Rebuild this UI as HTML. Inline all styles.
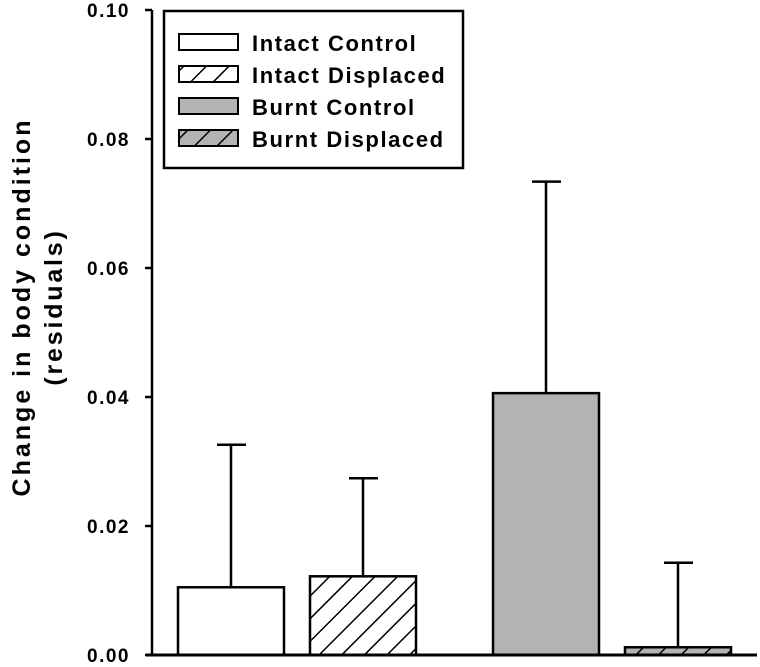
<!DOCTYPE html>
<html><head><meta charset="utf-8"><style>
body{margin:0;background:#fff;}
svg{display:block;font-family:"Liberation Sans",Arial,sans-serif;font-weight:bold;}
</style></head><body>
<svg id="chart" width="760" height="667" viewBox="0 0 760 667" xmlns="http://www.w3.org/2000/svg">
<defs>
<pattern id="hatch" patternUnits="userSpaceOnUse" width="16" height="16" patternTransform="rotate(45)">
<rect width="16" height="16" fill="white"/><line x1="0" y1="0" x2="0" y2="16" stroke="#000" stroke-width="3"/></pattern>
<pattern id="hatchg" patternUnits="userSpaceOnUse" width="16" height="16" patternTransform="rotate(45)">
<rect width="16" height="16" fill="#b3b3b3"/><line x1="0" y1="0" x2="0" y2="16" stroke="#000" stroke-width="3"/></pattern>
</defs>
<g id="plot"></g>
<text transform="translate(30,307) rotate(-90)" text-anchor="middle" font-size="25" letter-spacing="3">Change in body condition</text>
<text transform="translate(62,307) rotate(-90)" text-anchor="middle" font-size="25" letter-spacing="2.8">(residuals)</text>
<g>
<rect x="164" y="11" width="299" height="157" fill="#fff" stroke="#000" stroke-width="2.5"/>
<g><rect x="179" y="34" width="59" height="16" fill="#fff" stroke="#000" stroke-width="2"/><text x="252" y="51" font-size="22" letter-spacing="1.6">Intact Control</text></g>
<g><rect x="179" y="66" width="59" height="16" fill="url(#hatch)" stroke="#000" stroke-width="2"/><text x="252" y="83" font-size="22" letter-spacing="1.6">Intact Displaced</text></g>
<g><rect x="179" y="98" width="59" height="16" fill="#b3b3b3" stroke="#000" stroke-width="2"/><text x="252" y="115" font-size="22" letter-spacing="1.6">Burnt Control</text></g>
<g><rect x="179" y="130" width="59" height="16" fill="url(#hatchg)" stroke="#000" stroke-width="2"/><text x="252" y="147" font-size="22" letter-spacing="1.6">Burnt Displaced</text></g>
</g>
</svg>
<script>
const categories = ["Intact Control","Intact Displaced","Burnt Control","Burnt Displaced"];
const values = [0.0105, 0.0122, 0.0406, 0.0012];
const errors = [0.0221, 0.0152, 0.0328, 0.0131];
const tickValues = [0, 0.02, 0.04, 0.06, 0.08, 0.10];
const tickLabels = ["0.00","0.02","0.04","0.06","0.08","0.10"];
const fills = ["#fff","url(#hatch)","#b3b3b3","url(#hatchg)"];
const NS="http://www.w3.org/2000/svg";
const g=document.getElementById('plot');
const y0=655, yTop=10, vMax=0.10;
function yScale(v){return y0-(v/vMax)*(y0-yTop);}
const centers=[231,363,546,678];
function xScale(i){return centers[i];}
const bw=106;
function mk(tag,attrs){const e=document.createElementNS(NS,tag);for(const k in attrs)e.setAttribute(k,attrs[k]);g.appendChild(e);return e;}
categories.forEach((c,i)=>{
  const top=yScale(values[i]), et=yScale(values[i]+errors[i]), cx=xScale(i);
  const eb=mk('line',{x1:cx,x2:cx,y1:top,y2:et,stroke:'#000','stroke-width':2.5});
  
  
  const cap=mk('line',{x1:cx-14,x2:cx+15,y1:et,y2:et,stroke:'#000','stroke-width':2.5});
  
  
  const r=mk('rect',{x:cx-bw/2,y:top,width:bw,height:y0-top,fill:fills[i],stroke:'#000','stroke-width':2.5});
  
  
});
const ya=mk('line',{x1:152,x2:152,y1:yTop,y2:y0+1,stroke:'#000','stroke-width':2.5});


const xa=mk('line',{x1:146,x2:757,y1:y0,y2:y0,stroke:'#000','stroke-width':3});


tickValues.forEach((v,i)=>{
  const y=yScale(v);
  const t=mk('line',{x1:145,x2:152,y1:y,y2:y,stroke:'#000','stroke-width':2.5});
  
  
  const l=mk('text',{x:130,y:y+7,'text-anchor':'end','font-size':19,'letter-spacing':1.5});
  l.textContent=tickLabels[i];
  
  
});
</script>
</body></html>
